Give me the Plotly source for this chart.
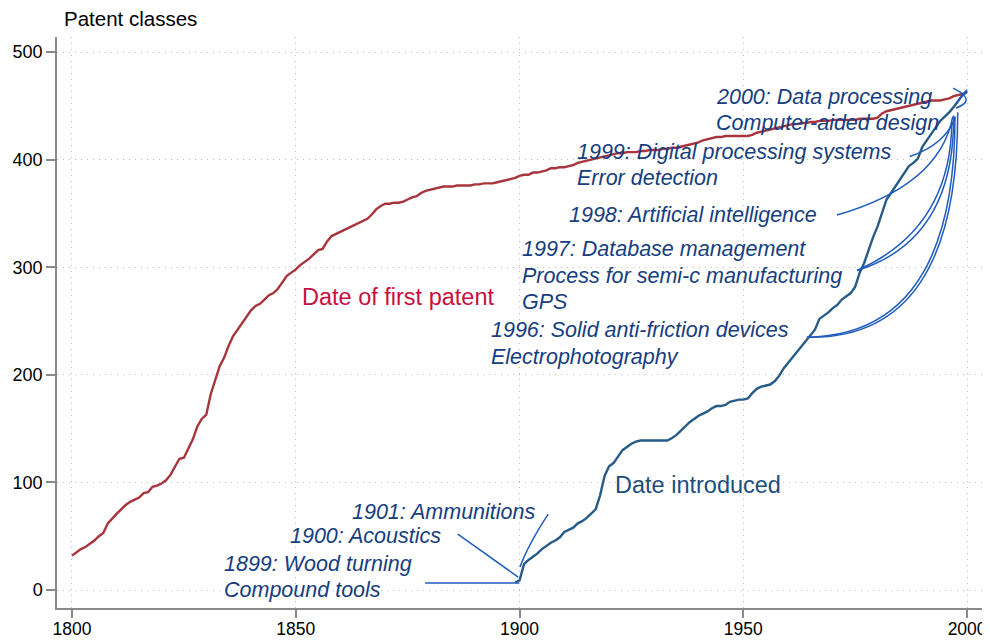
import plotly.graph_objects as go

# ---------------- data ----------------
first_years = list(range(1800, 2001))
first_values = [
    32, 35, 38, 40, 43, 46, 50, 53, 62, 67,            # 1800-1809
    71, 75, 79, 82, 84, 86, 90, 91, 96, 97,            # 1810-1819
    99, 102, 107, 115, 122, 123, 131, 140, 152, 159,   # 1820-1829
    163, 182, 195, 208, 216, 227, 236, 242, 248, 254,  # 1830-1839
    260, 264, 266, 270, 274, 276, 280, 286, 292, 295,  # 1840-1849
    298, 302, 305, 308, 312, 316, 317, 324, 329, 331,  # 1850-1859
    333, 335, 337, 339, 341, 343, 345, 349, 354, 357,  # 1860-1869
    359, 359, 360, 360, 361, 363, 365, 366, 369, 371,  # 1870-1879
    372, 373, 374, 375, 375, 375, 376, 376, 376, 376,  # 1880-1889
    377, 377, 378, 378, 378, 379, 380, 381, 382, 383,  # 1890-1899
    385, 386, 386, 388, 388, 389, 390, 392, 392, 393,  # 1900-1909
    393, 394, 395, 397, 398, 399, 400, 401, 402, 403,  # 1910-1919
    404, 405, 406, 406, 407, 407, 407, 408, 408, 409,  # 1920-1929
    409, 409, 410, 410, 411, 411, 412, 413, 414, 415,  # 1930-1939
    416, 418, 419, 420, 421, 421, 422, 422, 422, 422,  # 1940-1949
    422, 422, 423, 425, 426, 427, 428, 429, 430, 431,  # 1950-1959
    432, 433, 433, 434, 434, 435, 435, 436, 436, 436,  # 1960-1969
    437, 437, 437, 437, 437, 437, 438, 438, 438, 438,  # 1970-1979
    439, 443, 445, 446, 447, 448, 449, 450, 451, 452,  # 1980-1989
    453, 454, 455, 455, 455, 456, 457, 459, 460, 461,  # 1990-1999
    463,                                               # 2000
]

intro_years = list(range(1899, 2001))
intro_values = [
    7,                                                 # 1899
    9, 24, 28, 31, 34, 38, 41, 44, 46, 49,             # 1900-1909
    54, 56, 58, 62, 64, 67, 71, 75, 88, 106,           # 1910-1919
    115, 118, 124, 130, 133, 136, 138, 139, 139, 139,  # 1920-1929
    139, 139, 139, 139, 141, 144, 148, 152, 156, 159,  # 1930-1939
    162, 164, 166, 169, 171, 171, 172, 175, 176, 177,  # 1940-1949
    177, 178, 183, 187, 189, 190, 191, 194, 199, 206,  # 1950-1959
    211, 216, 221, 226, 232, 236, 242, 252, 255, 258,  # 1960-1969
    262, 265, 270, 273, 276, 282, 295, 304, 317, 328,  # 1970-1979
    338, 350, 363, 369, 375, 381, 388, 394, 397, 401,  # 1980-1989
    412, 418, 424, 431, 436, 440, 444, 449, 455, 460,  # 1990-1999
    463,                                               # 2000
]

x_ticks = [1800, 1850, 1900, 1950, 2000]
y_ticks = [0, 100, 200, 300, 400, 500]

# annotation labels: (text, year, value)  -- left-anchored
labels = [
    ("2000: Data processing", 1943.4, 458),
    ("Computer-aided design", 1943.4, 434),
    ("1999: Digital processing systems", 1912.4, 407),
    ("Error detection", 1912.4, 383),
    ("1998: Artificial intelligence", 1910.6, 348.5),
    ("1997: Database management", 1900.1, 317),
    ("Process for semi-c manufacturing", 1900.1, 292),
    ("GPS", 1900.1, 268),
    ("1996: Solid anti-friction devices", 1893.2, 241.6),
    ("Electrophotography", 1893.2, 216.5),
    ("1901: Ammunitions", 1862.1, 72.5),
    ("1900: Acoustics", 1848.3, 50.2),
    ("1899: Wood turning", 1833.5, 24.2),
    ("Compound tools", 1833.5, 0),
]

# connector curves: (start, control, end) in data units
connectors = [
    ((1964.2, 235), (1997.3, 237), (1997.3, 440)),   # 1996
    ((1964.2, 235), (1998.0, 232), (1997.9, 444)),   # 1996 (2nd)
    ((1975.4, 297), (1996.2, 335), (1996.6, 434)),   # 1997
    ((1975.4, 297), (1997.2, 325), (1997.0, 441)),   # 1997 (2nd)
    ((1970.9, 348.5), (1993.9, 376), (1996.8, 440)), # 1998
    ((1987.2, 403), (1995.1, 414), (1997.3, 439)),   # 1999
    ((1996.9, 466.5), (2002.4, 455), (1997.5, 448)), # 2000
    ((1997.7, 452), (1998.4, 459), (2000.0, 465)),   # 2000 (2nd)
    ((1878.9, 6.5), (1889.4, 6.5), (1899.9, 6.5)),   # 1899
    ((1886.2, 52), (1893.0, 32), (1899.7, 12)),      # 1900
    ((1906.4, 70.6), (1901.9, 42), (1900.1, 21.4)),  # 1901
]

# ---------------- figure ----------------
RED = "rgb(168,52,60)"
BLUE_LINE = "rgb(38,92,135)"
ANN_TEXT = "rgb(22,62,128)"
ANN_LINE = "rgb(32,92,190)"
FONT = "Liberation Sans, Arial, Helvetica, sans-serif"

fig = go.Figure()
fig.add_trace(go.Scatter(x=first_years, y=first_values, mode="lines",
                         line=dict(color=RED, width=2.4), hoverinfo="skip",
                         showlegend=False))
fig.add_trace(go.Scatter(x=intro_years, y=intro_values, mode="lines",
                         line=dict(color=BLUE_LINE, width=2.4), hoverinfo="skip",
                         showlegend=False))

shapes = []
for (s, c, e) in connectors:
    path = f"M {s[0]},{s[1]} Q {c[0]},{c[1]} {e[0]},{e[1]}"
    shapes.append(dict(type="path", path=path, xref="x", yref="y",
                       line=dict(color=ANN_LINE, width=1.5)))

annotations = []
for text, xv, yv in labels:
    annotations.append(dict(x=xv, y=yv, xref="x", yref="y", text=f"<i>{text}</i>",
                            showarrow=False, xanchor="left", yanchor="middle",
                            font=dict(family=FONT, size=21.5, color=ANN_TEXT)))

annotations.append(dict(x=1850.9, y=272, xref="x", yref="y", text="Date of first patent",
                        showarrow=False, xanchor="left", yanchor="middle",
                        font=dict(family=FONT, size=23.5, color="rgb(200,16,62)")))
annotations.append(dict(x=1920.9, y=97.6, xref="x", yref="y", text="Date introduced",
                        showarrow=False, xanchor="left", yanchor="middle",
                        font=dict(family=FONT, size=23.5, color="rgb(28,78,125)")))
annotations.append(dict(x=5 / 928, y=1 + 19 / 571, xref="paper", yref="paper",
                        text="Patent classes", showarrow=False, xanchor="left",
                        yanchor="middle", font=dict(family=FONT, size=20.5, color="black")))

# page body has an 8px margin: shrink the figure so the plot lands where it should
fig.update_layout(
    width=982, height=633,
    margin=dict(l=49, r=5, t=29, b=33, autoexpand=False),
    paper_bgcolor="white", plot_bgcolor="white",
    shapes=shapes, annotations=annotations,
    font=dict(family=FONT, color="black"),
)
fig.update_xaxes(range=[1796.65, 2004], tickvals=x_ticks, ticktext=[str(v) for v in x_ticks],
                 showline=True, linecolor="#8a8a8a", linewidth=1.5,
                 ticks="outside", ticklen=8, tickcolor="#8a8a8a", tickwidth=1.5,
                 ticklabelstandoff=-4,
                 showgrid=True, gridcolor="#bdbdbd", griddash="1px,5px", gridwidth=1,
                 zeroline=False, tickfont=dict(size=17.5, family=FONT, color="black"))
fig.update_yaxes(range=[-16.7, 514], tickvals=y_ticks, ticktext=[str(v) for v in y_ticks],
                 showline=True, linecolor="#8a8a8a", linewidth=1.5,
                 ticks="outside", ticklen=9, tickcolor="#8a8a8a", tickwidth=1.5,
                 showgrid=True, gridcolor="#bdbdbd", griddash="1px,5px", gridwidth=1,
                 zeroline=False, tickfont=dict(size=18, family=FONT, color="black"))

fig.write_html("out.html")
